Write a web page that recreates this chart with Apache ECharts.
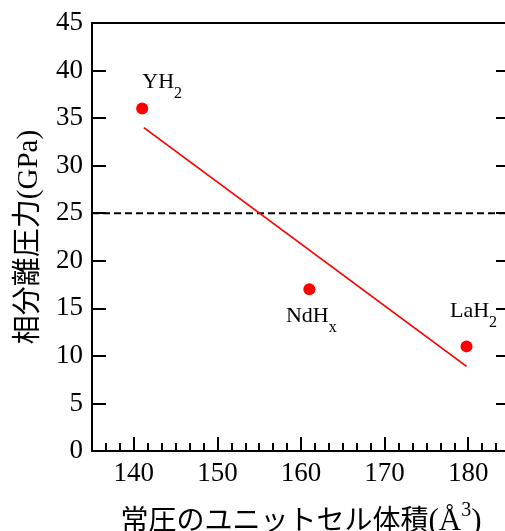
<!DOCTYPE html>
<html>
<head>
<meta charset="utf-8">
<script src="https://cdn.jsdelivr.net/npm/echarts@6/dist/echarts.min.js"></script>
<style>html,body{margin:0;padding:0;background:#fff;overflow:hidden}#c{width:505px;height:531px}</style>
</head>
<body>
<div id="c"></div>
<script>
// ---- data ----
const volumes = [141, 161, 179.8];          // x: unit-cell volume (Å^3)
const pressures = [36, 17, 11];             // y: phase-separation pressure (GPa)
const nameBase = ['YH', 'NdH', 'LaH'];
const nameSub = ['2', 'x', '2'];
const fitX = [141.2, 179.8];                 // red fit line end points
const fitY = [34.0, 8.9];
const thresholdY = 25;                       // dashed line
const xMajorTicks = [140, 150, 160, 170, 180];
const yTicks = [0, 5, 10, 15, 20, 25, 30, 35, 40, 45];
const xRange = [135, 185];
const yRange = [0, 45];

const FONT = "'Liberation Serif', 'Noto Sans CJK JP', serif";
const minorStep = 10 / 6;
const xMinorTicks = [];
for (let i = 0; xRange[0] + i * minorStep <= xRange[1] + 1e-9; i++) {
  const v = +(xRange[0] + i * minorStep).toFixed(6);
  if (!xMajorTicks.some(m => Math.abs(m - v) < 1e-6)) xMinorTicks.push(v);
}

const labelOffsets = [[20, -22], [2, 31], [7, -31]];

const chart = echarts.init(document.getElementById('c'), null, {renderer: 'canvas'});
const axisLineStyle = {color: '#000', width: 2};
const option = {
  animation: false,
  backgroundColor: '#fff',
  grid: {left: 92, top: 23, width: 418, height: 428, containLabel: false, outerBoundsMode: 'none'},
  xAxis: [
    {
      type: 'value', position: 'bottom', min: xRange[0], max: xRange[1],
      axisLine: {show: true, onZero: false, lineStyle: axisLineStyle},
      axisTick: {show: true, inside: true, length: 14, customValues: xMajorTicks, lineStyle: {color: '#000', width: 2}},
      axisLabel: {show: true, customValues: xMajorTicks, margin: 9, color: '#000', fontFamily: FONT, fontSize: 27},
      splitLine: {show: false},
      name: '{a|常圧のユニットセル体積}{b|(Å}{s|3}{b|)}',
      nameLocation: 'middle', nameGap: 50,
      nameTextStyle: {
        color: '#000', fontFamily: FONT, fontSize: 28,
        rich: {
          a: {fontFamily: FONT, fontSize: 28, color: '#000', verticalAlign: 'bottom', lineHeight: 36},
          b: {fontFamily: FONT, fontSize: 31, color: '#000', verticalAlign: 'bottom', lineHeight: 36},
          s: {fontFamily: FONT, fontSize: 20, color: '#000', verticalAlign: 'top', lineHeight: 36}
        }
      }
    },
    {
      type: 'value', position: 'bottom', min: xRange[0], max: xRange[1],
      axisLine: {show: false, onZero: false},
      axisTick: {show: true, inside: true, length: 8, customValues: xMinorTicks, lineStyle: {color: '#000', width: 2}},
      axisLabel: {show: false},
      splitLine: {show: false}
    },
    {
      type: 'value', position: 'top', min: xRange[0], max: xRange[1],
      axisLine: {show: true, onZero: false, lineStyle: axisLineStyle},
      axisTick: {show: false}, axisLabel: {show: false}, splitLine: {show: false}
    }
  ],
  yAxis: [
    {
      type: 'value', position: 'left', min: yRange[0], max: yRange[1], interval: 5,
      axisLine: {show: true, onZero: false, lineStyle: axisLineStyle},
      axisTick: {show: true, inside: true, length: 14, lineStyle: {color: '#000', width: 2}},
      axisLabel: {show: true, margin: 9, color: '#000', fontFamily: FONT, fontSize: 27},
      splitLine: {show: false},
      name: '相分離圧力(GPa)', nameLocation: 'middle', nameGap: 48, nameRotate: 90,
      nameTextStyle: {color: '#000', fontFamily: FONT, fontSize: 29}
    },
    {
      type: 'value', position: 'right', min: yRange[0], max: yRange[1], interval: 5,
      axisLine: {show: false, onZero: false},
      axisTick: {show: true, inside: true, length: 14, lineStyle: {color: '#000', width: 2}},
      axisLabel: {show: false}, splitLine: {show: false}
    }
  ],
  series: [
    {
      type: 'line', xAxisIndex: 0, yAxisIndex: 0,
      data: [[xRange[0], thresholdY], [xRange[1], thresholdY]],
      symbol: 'none', silent: true,
      lineStyle: {color: '#000', width: 2, type: [7, 4]}
    },
    {
      type: 'line', xAxisIndex: 0, yAxisIndex: 0,
      data: fitX.map((x, i) => [x, fitY[i]]),
      symbol: 'none', silent: true,
      lineStyle: {color: '#ff0000', width: 1.8}
    },
    {
      type: 'scatter', xAxisIndex: 0, yAxisIndex: 0,
      symbol: 'circle', symbolSize: 12,
      itemStyle: {color: '#ff0000', opacity: 1},
      data: volumes.map((x, i) => ({
        value: [x, pressures[i]],
        label: {
          show: true, position: 'inside', offset: labelOffsets[i],
          formatter: '{a|' + nameBase[i] + '}{s|' + nameSub[i] + '}',
          rich: {
            a: {fontFamily: FONT, fontSize: 22, color: '#000', verticalAlign: 'top', lineHeight: 30},
            s: {fontFamily: FONT, fontSize: 16, color: '#000', verticalAlign: 'bottom', lineHeight: 30}
          }
        }
      }))
    }
  ]
};
chart.setOption(option);
</script>
</body>
</html>
